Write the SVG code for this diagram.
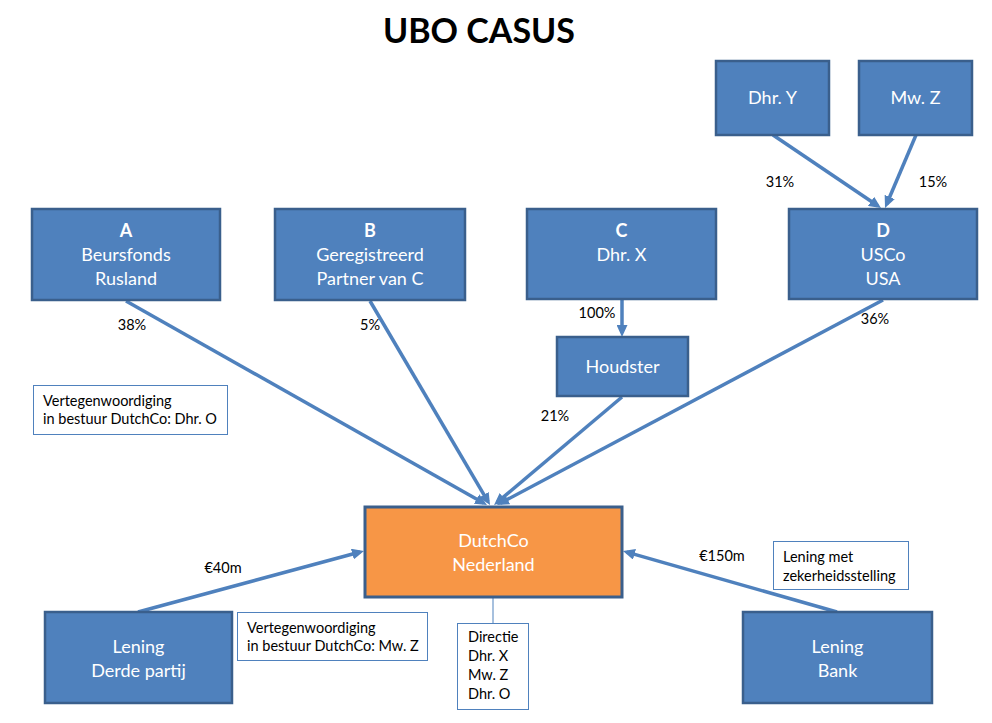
<svg xmlns="http://www.w3.org/2000/svg" width="992" height="723" viewBox="0 0 992 723">
<style>
.box{fill:#4F81BD;stroke:#3A5F8C;stroke-width:2.5}
.org{fill:#F79646;stroke:#3A5F8C;stroke-width:3}
.note{fill:#FFFFFF;stroke:#4F81BD;stroke-width:1}
.bt{font-family:Lato,"Liberation Sans",sans-serif;font-size:18px;fill:#FFFFFF;text-anchor:middle}
.bb{font-weight:bold}
.lbl{font-family:Lato,"Liberation Sans",sans-serif;font-size:14.5px;fill:#000000;text-anchor:middle}
.nt{font-family:Lato,"Liberation Sans",sans-serif;font-size:14.5px;fill:#000000}
.title{font-family:Lato,"Liberation Sans",sans-serif;font-size:34px;font-weight:bold;fill:#000000;text-anchor:middle}
.con{stroke:#4F81BD;stroke-width:3.5;fill:none;marker-end:url(#ah)}
</style>
<defs>
<marker id="ah" markerUnits="userSpaceOnUse" markerWidth="12" markerHeight="11" refX="8" refY="5.5" orient="auto">
<path d="M0,0 L12,5.5 L0,11 z" fill="#4F81BD"/>
</marker>
</defs>
<rect width="992" height="723" fill="#FFFFFF"/>
<text class="title" x="479" y="43">UBO CASUS</text>

<g id="connectors">
<line class="con" x1="126" y1="301" x2="483.5" y2="503"/>
<line class="con" x1="370" y1="301" x2="488" y2="501.6"/>
<line class="con" x1="622" y1="397" x2="497.1" y2="502.4"/>
<line class="con" x1="883" y1="300" x2="500.5" y2="503.1"/>
<line class="con" x1="622" y1="300" x2="622" y2="333"/>
<line class="con" x1="773" y1="135" x2="877.7" y2="205.8"/>
<line class="con" x1="916" y1="135" x2="886.6" y2="204.3"/>
<line class="con" x1="138" y1="612" x2="360.1" y2="552"/>
<line class="con" x1="837" y1="612" x2="626.8" y2="552.1"/>
<line x1="493" y1="598" x2="493" y2="623" stroke="#4F81BD" stroke-width="1"/>
<text class="lbl" x="132" y="330">38%</text>
<text class="lbl" x="370" y="330">5%</text>
<text class="lbl" x="597" y="318">100%</text>
<text class="lbl" x="555" y="421">21%</text>
<text class="lbl" x="875" y="324">36%</text>
<text class="lbl" x="780" y="187">31%</text>
<text class="lbl" x="933" y="187">15%</text>
<text class="lbl" x="223" y="573">€40m</text>
<text class="lbl" x="722" y="561">€150m</text>
</g>

<g id="dhrY">
<rect class="box" x="716" y="61" width="113" height="74"/>
<text class="bt" x="772.5" y="104">Dhr. Y</text>
</g>
<g id="mwZ">
<rect class="box" x="859" y="61" width="113" height="74"/>
<text class="bt" x="915.5" y="104">Mw. Z</text>
</g>
<g id="A">
<rect class="box" x="32" y="209" width="188" height="91"/>
<text class="bt bb" x="126" y="237">A</text>
<text class="bt" x="126" y="261">Beursfonds</text>
<text class="bt" x="126" y="285">Rusland</text>
</g>
<g id="B">
<rect class="box" x="275" y="209" width="190" height="91"/>
<text class="bt bb" x="370" y="237">B</text>
<text class="bt" x="370" y="261">Geregistreerd</text>
<text class="bt" x="370" y="285">Partner van C</text>
</g>
<g id="C">
<rect class="box" x="527" y="209" width="189" height="90"/>
<text class="bt bb" x="621.5" y="237">C</text>
<text class="bt" x="621.5" y="261">Dhr. X</text>
</g>
<g id="D">
<rect class="box" x="789" y="209" width="188" height="90"/>
<text class="bt bb" x="883" y="237">D</text>
<text class="bt" x="883" y="261">USCo</text>
<text class="bt" x="883" y="285">USA</text>
</g>
<g id="houdster">
<rect class="box" x="557" y="337" width="131" height="59"/>
<text class="bt" x="622.5" y="373">Houdster</text>
</g>
<g id="dutchco">
<rect class="org" x="365" y="507" width="257" height="90"/>
<text class="bt" x="493.5" y="547">DutchCo</text>
<text class="bt" x="493.5" y="571">Nederland</text>
</g>
<g id="leningDerde">
<rect class="box" x="45" y="612" width="187" height="91"/>
<text class="bt" x="138.5" y="653">Lening</text>
<text class="bt" x="138.5" y="677">Derde partij</text>
</g>
<g id="leningBank">
<rect class="box" x="743" y="612" width="189" height="91"/>
<text class="bt" x="837.5" y="653">Lening</text>
<text class="bt" x="837.5" y="677">Bank</text>
</g>
<g id="noteO">
<rect class="note" x="33.5" y="385.5" width="194" height="49"/>
<text class="nt" x="43" y="406">Vertegenwoordiging</text>
<text class="nt" x="43" y="424">in bestuur DutchCo: Dhr. O</text>
</g>
<g id="noteZ">
<rect class="note" x="237.5" y="612.5" width="190" height="48"/>
<text class="nt" x="247" y="633">Vertegenwoordiging</text>
<text class="nt" x="247" y="651">in bestuur DutchCo: Mw. Z</text>
</g>
<g id="noteBank">
<rect class="note" x="773.5" y="541.5" width="135" height="48"/>
<text class="nt" x="783" y="562">Lening met</text>
<text class="nt" x="783" y="581">zekerheidsstelling</text>
</g>
<g id="directie">
<rect class="note" x="457.5" y="623.5" width="71" height="86"/>
<text class="nt" x="468" y="642">Directie</text>
<text class="nt" x="468" y="661">Dhr. X</text>
<text class="nt" x="468" y="680">Mw. Z</text>
<text class="nt" x="468" y="699">Dhr. O</text>
</g>
</svg>
